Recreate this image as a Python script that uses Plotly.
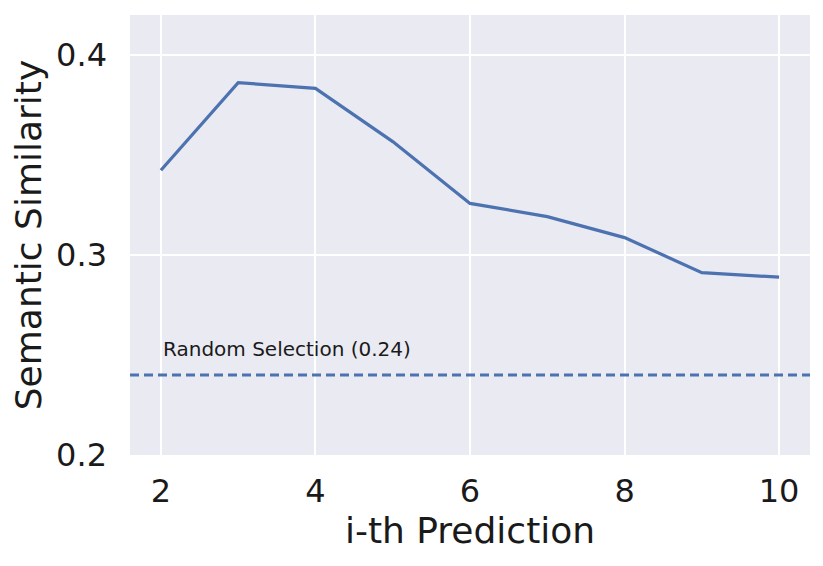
import plotly.graph_objects as go

predictions = [2, 3, 4, 5, 6, 7, 8, 9, 10]
similarity = [0.3424, 0.3862, 0.3833, 0.3567, 0.3258, 0.3192, 0.3087, 0.2912, 0.2889]
random_baseline = 0.24
x_ticks = [2, 4, 6, 8, 10]
y_ticks = [0.2, 0.3, 0.4]

BLUE = "#4C72B0"
FONT = dict(family="DejaVu Sans", color="#1a1a1a")

fig = go.Figure()
fig.add_scatter(x=predictions, y=similarity, mode="lines",
                line=dict(color=BLUE, width=3.2), showlegend=False)
fig.add_scatter(x=[1.6, 10.4], y=[random_baseline] * 2, mode="lines",
                line=dict(color=BLUE, width=3.0, dash="9px,5px"), showlegend=False)
fig.add_annotation(x=2, y=random_baseline + 0.013, xanchor="left", yanchor="middle",
                   text=f"Random Selection ({random_baseline})", showarrow=False,
                   font=dict(size=20, **FONT))

# page body adds ~8px offset, so margins are shifted to land the plot box at 130..809 x 15..455
fig.update_layout(
    width=823, height=566,
    margin=dict(l=122, r=21, t=7, b=119),
    paper_bgcolor="white", plot_bgcolor="#EAEAF2",
    font=FONT,
    xaxis=dict(range=[1.6, 10.4], tickvals=x_ticks, showgrid=True,
               gridcolor="white", gridwidth=2, zeroline=False, showline=False,
               ticks="", tickfont=dict(size=32), ticklabelstandoff=14,
               title=dict(text="i-th Prediction", font=dict(size=36), standoff=8)),
    yaxis=dict(range=[0.2, 0.42], tickvals=y_ticks, tickformat=".1f", showgrid=True,
               gridcolor="white", gridwidth=2, zeroline=False, showline=False,
               ticks="", tickfont=dict(size=32), ticklabelstandoff=22,
               title=dict(text="Semantic Similarity", font=dict(size=36), standoff=8)),
)

fig.write_html("out.html")
